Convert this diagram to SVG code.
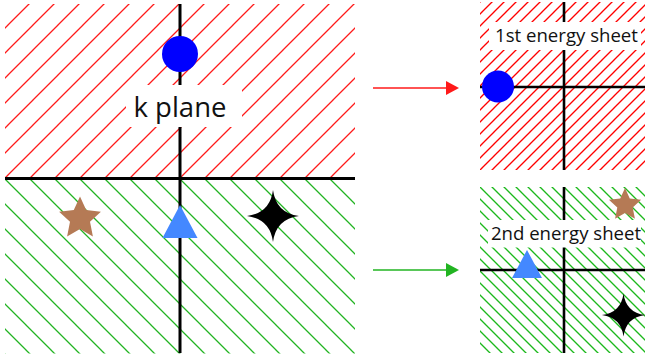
<svg xmlns="http://www.w3.org/2000/svg" width="645" height="361" viewBox="0 0 645 361">
<style>
.axis{stroke:#000;stroke-width:3;fill:none}
.axis2{stroke:#000;stroke-width:2.6;fill:none}
.lbl{font-family:"Open Sans","Liberation Sans",sans-serif;fill:#111;text-anchor:middle}
.box{fill:#fff}
.brown{fill:#b57a55}
.tri{fill:#4488ff}
.dot{fill:#0000ff}
</style>
<defs>
<pattern id="hRedL" patternUnits="userSpaceOnUse" x="8" y="0" width="25" height="25">
<path d="M-2,27 L27,-2 M-3,3 L3,-3 M22,28 L28,22" stroke="#ff1a1a" stroke-width="1.3"/>
</pattern>
<pattern id="hGreenL" patternUnits="userSpaceOnUse" x="1" y="0" width="25" height="25">
<path d="M-2,-2 L27,27 M-3,22 L3,28 M22,-3 L28,3" stroke="#22b422" stroke-width="1.3"/>
</pattern>
<pattern id="hRedR" patternUnits="userSpaceOnUse" x="2" y="0" width="12" height="12">
<path d="M-2,14 L14,-2 M-3,3 L3,-3 M9,15 L15,9" stroke="#ff0000" stroke-width="1.35"/>
</pattern>
<pattern id="hGreenR" patternUnits="userSpaceOnUse" x="5" y="0" width="12" height="12">
<path d="M-2,-2 L14,14 M-3,9 L3,15 M9,-3 L15,3" stroke="#1cb81c" stroke-width="1.35"/>
</pattern>
<path id="star5" d="M0,-22 L6.2,-8.5 L20.9,-6.8 L10,3.2 L12.9,17.8 L0,10.5 L-12.9,17.8 L-10,3.2 L-20.9,-6.8 L-6.2,-8.5 Z"/>
<path id="star4" d="M0,-26 Q3,-3 26,0 Q3,3 0,26 Q-3,3 -26,0 Q-3,-3 0,-26 Z"/>
</defs>

<g id="k-plane">
<rect x="5" y="4" width="350" height="174.5" fill="url(#hRedL)"/>
<rect x="5" y="178.5" width="350" height="175" fill="url(#hGreenL)"/>
<line class="axis" x1="180" y1="4" x2="180" y2="353"/>
<line class="axis" x1="5" y1="178.5" x2="355" y2="178.5"/>
<rect class="box" x="126" y="85" width="116" height="42"/>
<text class="lbl" x="180" y="117" font-size="27.5">k plane</text>
</g>
<g id="k-circle"><circle class="dot" cx="180" cy="54" r="18"/></g>
<g id="k-star"><use href="#star5" class="brown" x="80" y="218.6"/></g>
<g id="k-triangle"><polygon class="tri" points="180,205 197.5,238 162.5,238"/></g>
<g id="k-cross"><use href="#star4" fill="#000" x="273" y="216"/></g>

<g id="sheet1">
<rect x="480" y="2" width="165" height="168" fill="url(#hRedR)"/>
<line class="axis2" x1="564" y1="2" x2="564" y2="170"/>
<line class="axis2" x1="480" y1="87" x2="645" y2="87"/>
<rect class="box" x="489" y="22" width="152" height="28"/>
<text class="lbl" x="566.5" y="42" font-size="18.6">1st energy sheet</text>
<circle class="dot" cx="498" cy="86.5" r="16"/>
</g>

<g id="sheet2">
<rect x="480" y="187" width="165" height="166" fill="url(#hGreenR)"/>
<line class="axis2" x1="564" y1="187" x2="564" y2="353"/>
<line class="axis2" x1="480" y1="270" x2="645" y2="270"/>
<rect class="box" x="488" y="220" width="153" height="27.5"/>
<text class="lbl" x="566" y="239.5" font-size="18.6">2nd energy sheet</text>
<polygon class="tri" points="527,250 542,278 512,278"/>
<use href="#star5" class="brown" transform="translate(625,205) scale(0.77)"/>
<use href="#star4" fill="#000" transform="translate(623.5,315) scale(0.83)"/>
</g>

<g id="connectors">
<line x1="373" y1="88" x2="448" y2="88" stroke="#ff1a1a" stroke-width="1.6"/>
<polygon points="446,81 459,88 446,95" fill="#ff1a1a"/>
<line x1="373" y1="270" x2="448" y2="270" stroke="#22b422" stroke-width="1.6"/>
<polygon points="446,263 459,270 446,277" fill="#22b422"/>
</g>
</svg>
